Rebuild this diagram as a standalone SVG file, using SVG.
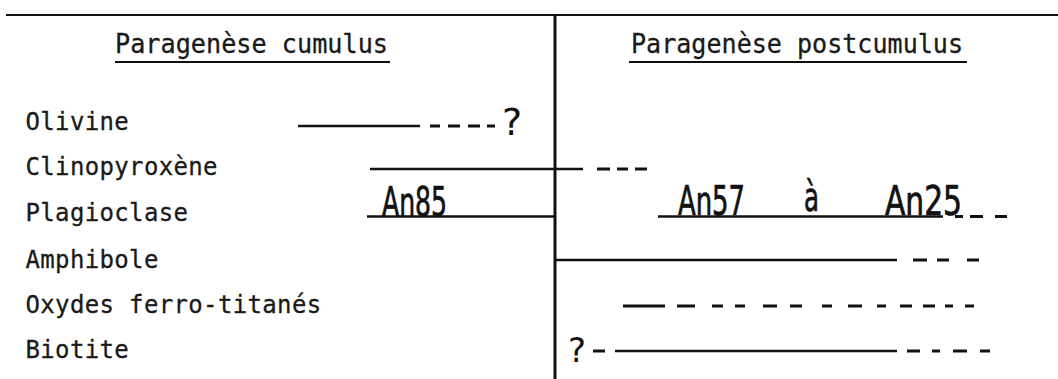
<svg xmlns="http://www.w3.org/2000/svg" width="1058" height="379" viewBox="0 0 1058 379">
<style>
.lbl{font-family:"DejaVu Sans Mono","Liberation Mono",monospace;font-size:24px;letter-spacing:0.35px;fill:#1a1a1a;stroke:#1a1a1a;stroke-width:0.3}
.hdr{font-family:"DejaVu Sans Mono","Liberation Mono",monospace;font-size:26px;fill:#1a1a1a;stroke:#1a1a1a;stroke-width:0.3}
.an{font-family:"DejaVu Sans Condensed","DejaVu Sans","Liberation Sans",sans-serif;font-size:40px;fill:#111;stroke:#111;stroke-width:0.7}
.q{font-family:"DejaVu Sans","Liberation Sans",sans-serif;fill:#111}
.bar{stroke:#111;stroke-width:2.6;fill:none}
.dash{stroke:#111;stroke-width:3;fill:none}
.frame{stroke:#111;fill:none}
</style>
<rect width="1058" height="379" fill="#fff"/>
<g id="frame">
  <line class="frame" x1="6" y1="15" x2="1058" y2="15" stroke-width="2.2" stroke="#333"/>
  <line class="frame" x1="555" y1="14" x2="555" y2="379" stroke-width="3"/>
</g>
<g id="header-cumulus">
  <text class="hdr" x="115" y="53" textLength="273" lengthAdjust="spacingAndGlyphs">Paragenèse cumulus</text>
  <line class="frame" x1="115" y1="62" x2="390" y2="62" stroke-width="2" stroke="#444"/>
</g>
<g id="header-postcumulus">
  <text class="hdr" x="631" y="53" textLength="332" lengthAdjust="spacingAndGlyphs">Paragenèse postcumulus</text>
  <line class="frame" x1="629" y1="62" x2="967" y2="62" stroke-width="2" stroke="#444"/>
</g>
<g id="connectors">
  <!-- Olivine -->
  <line class="bar" x1="298" y1="126" x2="420" y2="126"/>
  <path class="dash" d="M430 126H440M448 126H460M468 126H480M487 126H495"/>
  <!-- Clinopyroxene -->
  <line class="bar" x1="370" y1="169" x2="583" y2="169"/>
  <path class="dash" d="M597 169H610M617 169H628M635 169H647"/>
  <!-- Plagioclase -->
  <line class="bar" x1="367" y1="216.5" x2="555" y2="216.5"/>
  <line class="bar" x1="658" y1="216.5" x2="943" y2="216.5"/>
  <path class="dash" d="M955 216.5H963M970 216.5H983M995 216.5H1007"/>
  <!-- Amphibole -->
  <line class="bar" x1="555" y1="260" x2="897" y2="260"/>
  <path class="dash" d="M913 260H927M937 260H949M967 260H979"/>
  <!-- Oxydes -->
  <path class="dash" d="M623 306H665M677 306H695M712 306H723M735 306H745M763 306H777M790 306H802M822 306H832M848 306H862M877 306H886M900 306H912M923 306H935M945 306H953M965 306H974"/>
  <!-- Biotite -->
  <path class="dash" d="M593 351H605"/>
  <line class="bar" x1="615" y1="351" x2="897" y2="351"/>
  <path class="dash" d="M907 351H920M932 351H940M953 351H967M980 351H990"/>
</g>
<g id="olivine">
  <text class="lbl" x="25.5" y="130">Olivine</text>
  <text class="q" x="502" y="135" font-size="38">?</text>
</g>
<g id="clinopyroxene">
  <text class="lbl" x="25.5" y="175">Clinopyroxène</text>
</g>
<g id="plagioclase">
  <text class="lbl" x="25.5" y="221">Plagioclase</text>
  <text class="an" x="382" y="216" textLength="65" lengthAdjust="spacingAndGlyphs">An85</text>
  <text class="an" x="678" y="215" textLength="67" lengthAdjust="spacingAndGlyphs">An57</text>
  <text class="an" x="804" y="211" font-size="34" textLength="15" lengthAdjust="spacingAndGlyphs">à</text>
  <text class="an" x="885" y="215" textLength="77" lengthAdjust="spacingAndGlyphs">An25</text>
</g>
<g id="amphibole">
  <text class="lbl" x="25.5" y="268">Amphibole</text>
</g>
<g id="oxydes">
  <text class="lbl" x="25.5" y="313">Oxydes ferro-titanés</text>
</g>
<g id="biotite">
  <text class="lbl" x="25.5" y="358">Biotite</text>
  <text class="q" x="568" y="362" font-size="34">?</text>
</g>
</svg>
